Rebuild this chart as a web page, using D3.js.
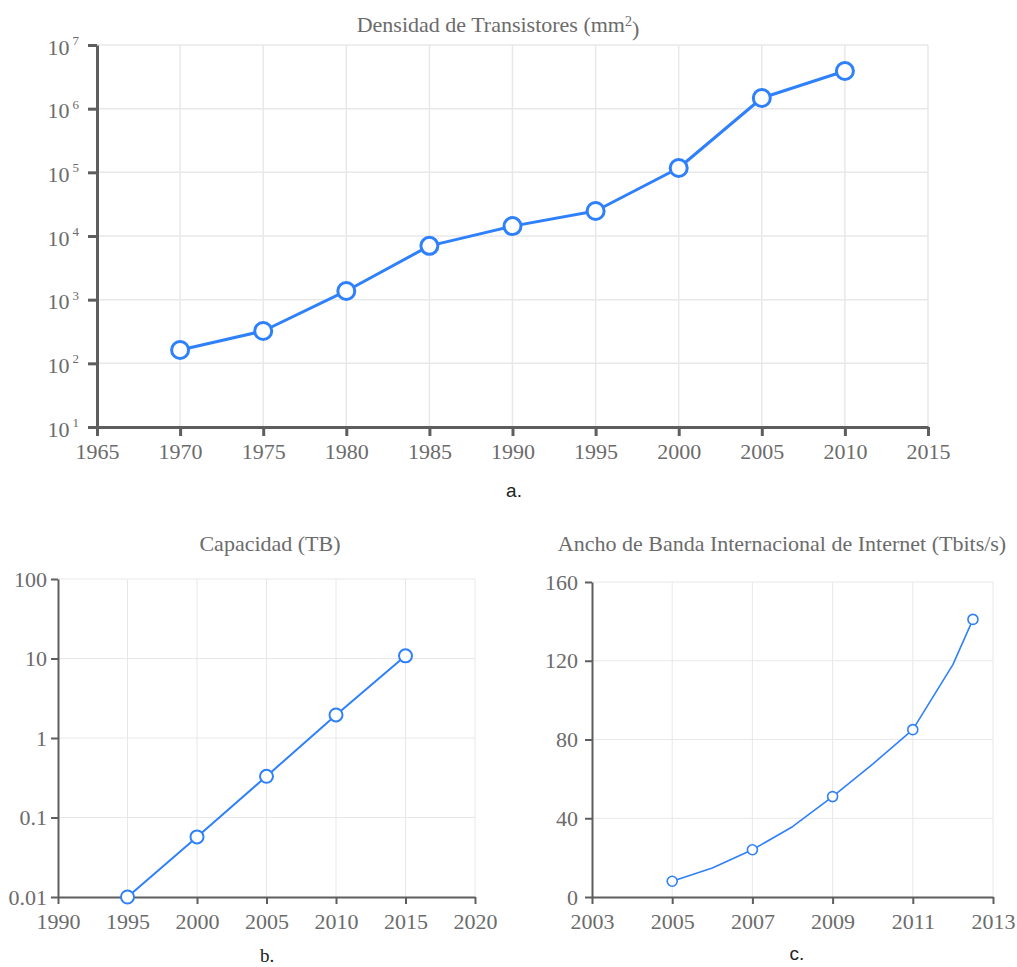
<!DOCTYPE html>
<html>
<head>
<meta charset="utf-8">
<script src="https://cdn.jsdelivr.net/npm/d3@7"></script>
<style>
  html, body { margin: 0; padding: 0; background: #fff; }
  svg { display: block; }
</style>
</head>
<body>
<svg id="chart" width="1017" height="967"></svg>
<script>
// Panel a: transistor density per mm²
const densityYears = [1970, 1975, 1980, 1985, 1990, 1995, 2000, 2005, 2010];
const densityValues = [162, 322, 1370, 7000, 14300, 24700, 117000, 1470000, 3900000];
const densityXTicks = [1965, 1970, 1975, 1980, 1985, 1990, 1995, 2000, 2005, 2010, 2015];
const densityYExponents = [1, 2, 3, 4, 5, 6, 7];

// Panel b: storage capacity (TB)
const capacityYears = [1995, 2000, 2005, 2010, 2015];
const capacityValues = [0.01, 0.057, 0.33, 1.95, 10.8];
const capacityXTicks = [1990, 1995, 2000, 2005, 2010, 2015, 2020];
const capacityYTicks = [0.01, 0.1, 1, 10, 100];
const capacityYLabels = ["0.01", "0.1", "1", "10", "100"];

// Panel c: international internet bandwidth (Tbit/s)
const bandwidthYears = [2005, 2006, 2007, 2008, 2009, 2010, 2011, 2012, 2012.5];
const bandwidthValues = [8, 14.7, 24, 35.7, 51, 67.5, 85, 118, 141];
const bandwidthMarked = [2005, 2007, 2009, 2011, 2012.5];
const bandwidthXTicks = [2003, 2005, 2007, 2009, 2011, 2013];
const bandwidthYTicks = [0, 40, 80, 120, 160];

const BLUE = "#2f80fb";
const GRID = "#e8e8e8";
const AXIS = "#5e5e5e";
const TEXT = "#6b6b6b";
const SERIF = "'Liberation Serif', 'Times New Roman', serif";
const SANS = "'Liberation Sans', Arial, sans-serif";

const svg = d3.select("#chart");

function panel(opt) {
  const g = svg.append("g");
  const x = opt.x, y = opt.y;
  const [x0, x1] = x.range();
  const [y0, y1] = y.range(); // y0 bottom, y1 top

  // grid
  g.append("g").selectAll("line").data(opt.xTicks.slice(1)).join("line")
    .attr("x1", d => x(d)).attr("x2", d => x(d))
    .attr("y1", y0).attr("y2", y1)
    .attr("stroke", GRID).attr("stroke-width", opt.gridW);
  g.append("g").selectAll("line").data(opt.yTicks.slice(1)).join("line")
    .attr("x1", x0).attr("x2", x1)
    .attr("y1", d => y(d)).attr("y2", d => y(d))
    .attr("stroke", GRID).attr("stroke-width", opt.gridW);

  // axes
  const xAxis = g.append("g").attr("transform", `translate(0,${y0})`)
    .call(d3.axisBottom(x).tickValues(opt.xTicks).tickFormat(d3.format("d"))
      .tickSize(opt.tick).tickPadding(opt.xPad).tickSizeOuter(0));
  const yAxis = g.append("g").attr("transform", `translate(${x0},0)`)
    .call(d3.axisLeft(y).tickValues(opt.yTicks).tickFormat(() => "")
      .tickSize(opt.tick).tickPadding(opt.yPad).tickSizeOuter(0));
  [xAxis, yAxis].forEach(a => {
    a.select(".domain").attr("stroke", AXIS).attr("stroke-width", opt.axisW);
    a.selectAll(".tick line").attr("stroke", AXIS).attr("stroke-width", opt.axisW);
    a.selectAll("text").attr("fill", TEXT).attr("font-family", SERIF)
      .attr("font-size", opt.fontSize);
  });
  yAxis.selectAll(".tick text").each(function(d, i) { opt.yLabel(d3.select(this), d, i); });

  // line + markers
  const pts = opt.years.map((yr, i) => [yr, opt.values[i]]);
  g.append("path").datum(pts)
    .attr("fill", "none").attr("stroke", BLUE).attr("stroke-width", opt.lineW)
    .attr("stroke-linejoin", "round")
    .attr("d", d3.line().x(d => x(d[0])).y(d => y(d[1])));
  const marked = opt.marked ? pts.filter(p => opt.marked.includes(p[0])) : pts;
  g.append("g").selectAll("circle").data(marked).join("circle")
    .attr("cx", d => x(d[0])).attr("cy", d => y(d[1])).attr("r", opt.r)
    .attr("fill", "#fff").attr("stroke", BLUE).attr("stroke-width", opt.lineW);

  // title
  const t = svg.append("text").attr("x", opt.titleX).attr("y", opt.titleY)
    .attr("text-anchor", "middle").attr("fill", TEXT)
    .attr("font-family", SERIF).attr("font-size", opt.titleSize);
  opt.title(t);

  // caption letter
  svg.append("text").attr("x", opt.capX).attr("y", opt.capY)
    .attr("text-anchor", "middle").attr("fill", "#222")
    .attr("font-family", opt.capFont).attr("font-size", 19).text(opt.caption);
}

// a.
panel({
  x: d3.scaleLinear().domain([1965, 2015]).range([97, 928]),
  y: d3.scaleLog().domain([10, 1e7]).range([427, 45]),
  xTicks: densityXTicks,
  yTicks: densityYExponents.map(e => Math.pow(10, e)),
  years: densityYears, values: densityValues,
  tick: 9, xPad: 7, yPad: 9, axisW: 3, gridW: 1.5, lineW: 3, r: 8.5, fontSize: 22,
  yLabel: (sel, d, i) => {
    sel.text("").attr("dy", "0.42em");
    sel.append("tspan").text("10");
    sel.append("tspan").attr("dy", "-0.75em").attr("dx", "3").attr("font-size", 13)
      .text(densityYExponents[i]);
  },
  title: t => {
    t.append("tspan").text("Densidad de Transistores (mm");
    t.append("tspan").attr("dy", "-0.45em").attr("font-size", 14).text("2");
    t.append("tspan").attr("dy", "0.45em").text(")");
  },
  titleX: 498, titleY: 32, titleSize: 22,
  caption: "a.", capX: 514, capY: 497, capFont: SANS
});

// b.
panel({
  x: d3.scaleLinear().domain([1990, 2020]).range([58, 475]),
  y: d3.scaleLog().domain([0.01, 100]).range([897, 579]),
  xTicks: capacityXTicks, yTicks: capacityYTicks,
  years: capacityYears, values: capacityValues,
  tick: 7, xPad: 9, yPad: 4, axisW: 2, gridW: 1, lineW: 2, r: 6.5, fontSize: 22,
  yLabel: (sel, d, i) => sel.text(capacityYLabels[i]),
  title: t => t.text("Capacidad (TB)"),
  titleX: 270, titleY: 551, titleSize: 22,
  caption: "b.", capX: 267, capY: 962, capFont: SERIF
});

// c.
panel({
  x: d3.scaleLinear().domain([2003, 2013]).range([592, 993]),
  y: d3.scaleLinear().domain([0, 160]).range([897, 582]),
  xTicks: bandwidthXTicks, yTicks: bandwidthYTicks,
  years: bandwidthYears, values: bandwidthValues, marked: bandwidthMarked,
  tick: 7, xPad: 9, yPad: 7, axisW: 2, gridW: 1, lineW: 1.6, r: 5, fontSize: 22,
  yLabel: (sel, d) => sel.text(d),
  title: t => t.text("Ancho de Banda Internacional de Internet (Tbits/s)"),
  titleX: 782, titleY: 551, titleSize: 22,
  caption: "c.", capX: 797, capY: 960, capFont: SANS
});
</script>
</body>
</html>
